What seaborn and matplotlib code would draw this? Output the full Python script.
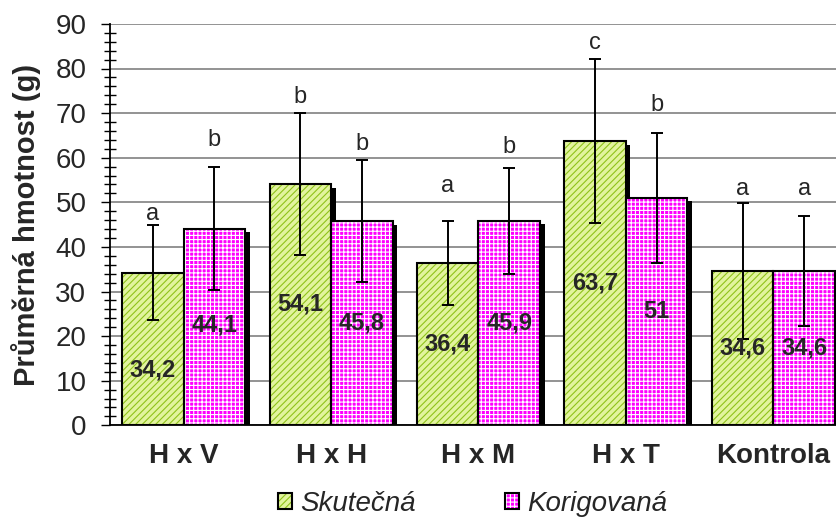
import numpy as np
import pandas as pd
import matplotlib
matplotlib.use("Agg")
import matplotlib.pyplot as plt
from matplotlib.patches import Patch, Rectangle
from matplotlib.ticker import MultipleLocator
import seaborn as sns

# Mean body weight (g) per cross, actual vs. corrected, with standard deviations
crosses = ["H x V", "H x H", "H x M", "H x T", "Kontrola"]
series = ["Skutečná", "Korigovaná"]
mean_actual = [34.2, 54.1, 36.4, 63.7, 34.6]
mean_corrected = [44.1, 45.8, 45.9, 51.0, 34.6]
sd_actual = [10.7, 15.9, 9.4, 18.4, 15.3]
sd_corrected = [13.8, 13.6, 11.9, 14.6, 12.3]
letters_actual = ["a", "b", "a", "c", "a"]
letters_corrected = ["b", "b", "b", "b", "a"]

# Annotation layout: baseline height of the significance letters, height of value labels
letter_y_actual = [46.0, 72.3, 52.2, 84.3, 51.6]
letter_y_corrected = [62.6, 61.7, 61.0, 70.5, 51.6]
value_y_actual = [12.4, 27.1, 18.2, 31.9, 17.3]
value_y_corrected = [22.5, 22.9, 23.0, 25.5, 17.3]

sns.set_style("white")
plt.rcParams["font.family"] = ["Liberation Sans", "DejaVu Sans"]
plt.rcParams["hatch.linewidth"] = 0.8

df = pd.DataFrame({
    "Křížení": crosses * 2,
    "Série": [series[0]] * len(crosses) + [series[1]] * len(crosses),
    "Hmotnost": mean_actual + mean_corrected,
})

W, H = 836, 518
fig = plt.figure(figsize=(W / 100, H / 100), dpi=100)
ax = fig.add_axes([110 / W, 1 - 425.3 / H, 737 / W, 401.4 / H])

sns.barplot(data=df, x="Křížení", y="Hmotnost", hue="Série", order=crosses,
            hue_order=series, width=0.835, errorbar=None, legend=False,
            saturation=1, ax=ax, zorder=3)
bar_containers = list(ax.containers)

styles = [
    dict(face="#e2f49e", hatchcol="#8fc21a", hatch="/////"),
    dict(face="#ff00ff", hatchcol="#ffffff", hatch="++++"),
]

means = [mean_actual, mean_corrected]
sds = [sd_actual, sd_corrected]
letters = [letters_actual, letters_corrected]
letter_y = [letter_y_actual, letter_y_corrected]
value_y = [value_y_actual, value_y_corrected]

px_x = 147.4  # pixels per category
px_y = 401.4 / 90  # pixels per unit
for k, cont in enumerate(bar_containers):
    st = styles[k]
    xs = []
    for bar in cont:
        x0, w, h = bar.get_x(), bar.get_width(), bar.get_height()
        xs.append(x0 + w / 2)
        bar.set_facecolor(st["face"])
        bar.set_edgecolor(st["hatchcol"])
        bar.set_hatch(st["hatch"])
        bar.set_linewidth(0)
        bar.set_zorder(3)
        # outline
        ax.add_patch(Rectangle((x0, 0), w, h, fill=False, edgecolor="black",
                               linewidth=1.5, zorder=3.5))
        # drop shadow
        ax.add_patch(Rectangle((x0 + 4.5 / px_x, 0), w, h - 3.5 / px_y,
                               facecolor="black", edgecolor="none", zorder=2))
    ax.errorbar(xs, means[k], yerr=sds[k], fmt="none", ecolor="black",
                elinewidth=1.4, capsize=4, capthick=1.4, zorder=5)
    for x, m, ly, vy, lt in zip(xs, means[k], letter_y[k], value_y[k], letters[k]):
        ax.text(x, vy, f"{m:g}".replace(".", ","), ha="center", va="center",
                fontsize=17, fontweight="bold", zorder=6)
        ax.text(x, ly, lt, ha="center", va="baseline", fontsize=17, zorder=6)

ax.set_ylim(0, 90)
ax.set_xlim(-0.5, len(crosses) - 0.5)
ax.yaxis.set_major_locator(MultipleLocator(10))
ax.yaxis.set_minor_locator(MultipleLocator(2))
ax.yaxis.grid(True, which="major", color="#808080", linewidth=1.2)
ax.xaxis.grid(False)
ax.set_axisbelow(True)

ax.set_xticks(np.arange(-0.5, len(crosses)), labels=[""] * (len(crosses) + 1))
ax.set_xticks(np.arange(len(crosses)), labels=crosses, minor=True)
ax.tick_params(axis="x", which="major", direction="out", length=6, width=1, color="black")
ax.tick_params(axis="x", which="minor", length=0, pad=13, labelsize=20)
for t in ax.get_xticklabels(minor=True):
    t.set_fontweight("bold")

ax.tick_params(axis="y", which="major", direction="out", length=6.5, width=1,
               color="black", labelsize=20, pad=10.5, left=True)
ax.tick_params(axis="y", which="minor", direction="inout", length=8.5, width=1,
               color="black", left=True)

for s in ["top", "right"]:
    ax.spines[s].set_visible(False)
for s in ["left", "bottom"]:
    ax.spines[s].set_color("black")
    ax.spines[s].set_linewidth(1.3)
    ax.spines[s].set_zorder(7)

ax.set_xlabel("")
ax.set_ylabel("Průměrná hmotnost (g)", fontsize=21, fontweight="bold")
ax.yaxis.set_label_coords(-0.094, 0.5)

handles = [Patch(facecolor=st["face"], edgecolor=st["hatchcol"], hatch=st["hatch"],
                 linewidth=0) for st in styles]
frames = [Patch(facecolor="none", edgecolor="black", linewidth=1.5) for _ in styles]
leg = fig.legend([(h, f) for h, f in zip(handles, frames)], series,
                 loc="center left", bbox_to_anchor=(278 / W, 1 - 504 / H),
                 ncol=2, frameon=False, borderpad=0, borderaxespad=0,
                 handlelength=0.5, handleheight=0.5, handletextpad=0.3,
                 columnspacing=3.2, prop={"size": 20, "style": "italic"})

fig.savefig("out.png", dpi=100)
